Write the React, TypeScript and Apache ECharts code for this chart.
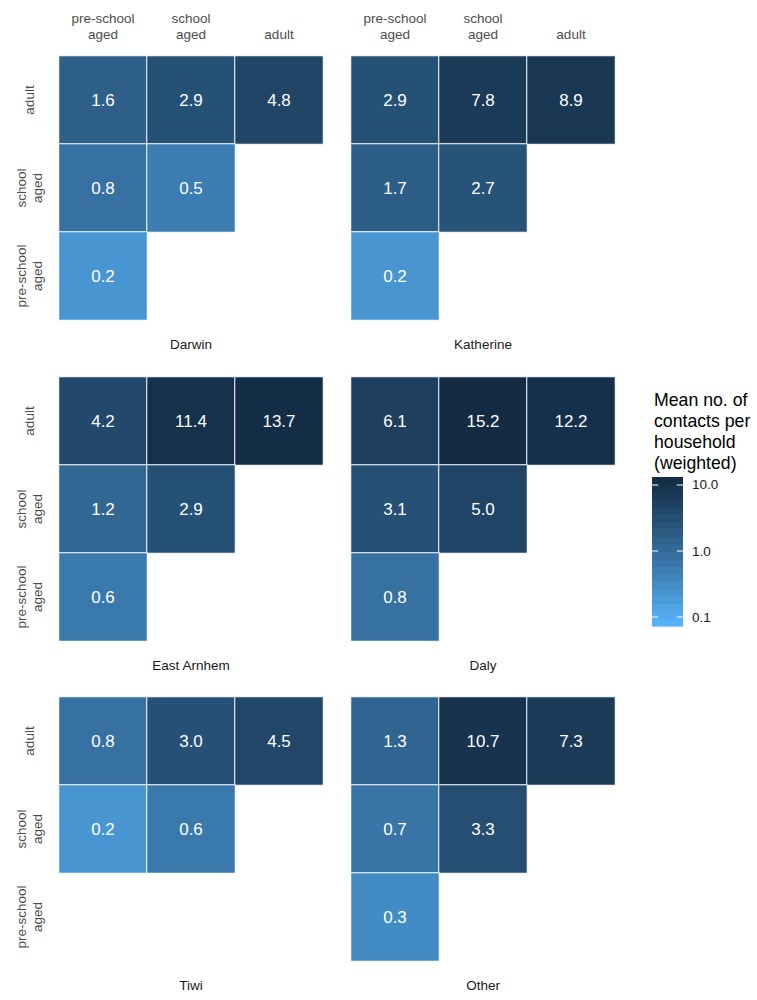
import React, { useEffect, useRef } from "react";
import * as echarts from "echarts";

// Age groups, bottom-to-top on the y axis, left-to-right on the x axis
const ageGroups = ["pre-school\naged", "school\naged", "adult"];
const regions = ["Darwin", "Katherine", "East Arnhem", "Daly", "Tiwi", "Other"];

// Each region: rows listed top-down (adult, school aged, pre-school aged),
// values left-to-right across contact age groups
const darwin = [[1.6, 2.9, 4.8], [0.8, 0.5], [0.2]];
const katherine = [[2.9, 7.8, 8.9], [1.7, 2.7], [0.2]];
const eastArnhem = [[4.2, 11.4, 13.7], [1.2, 2.9], [0.6]];
const daly = [[6.1, 15.2, 12.2], [3.1, 5.0], [0.8]];
const tiwi = [[0.8, 3.0, 4.5], [0.2, 0.6], []];
const other = [[1.3, 10.7, 7.3], [0.7, 3.3], [0.3]];
const regionValues = [darwin, katherine, eastArnhem, daly, tiwi, other];

// Colour scale (log10) and legend breaks
const scaleLogMin = -1.136;
const scaleLogMax = Math.log10(15.2);
const barLogMax = 1.121;
const legendBreaks = [0.1, 1, 10];
const lowColor = "#56B1F7";
const highColor = "#132B43";

// --- Lab interpolation, as in a sequential gradient palette ---
function hexToRgb(h: string) {
  const n = parseInt(h.slice(1), 16);
  return [(n >> 16) & 255, (n >> 8) & 255, n & 255];
}
function toLin(c: number) {
  c /= 255;
  return c <= 0.04045 ? c / 12.92 : Math.pow((c + 0.055) / 1.055, 2.4);
}
function fromLin(c: number) {
  const v = c <= 0.0031308 ? 12.92 * c : 1.055 * Math.pow(c, 1 / 2.4) - 0.055;
  return Math.round(Math.max(0, Math.min(1, v)) * 255);
}
const Xn = 0.95047, Yn = 1.0, Zn = 1.08883;
function fLab(t: number) {
  return t > 0.008856 ? Math.cbrt(t) : 7.787 * t + 16 / 116;
}
function fInv(f: number) {
  const f3 = f * f * f;
  return f3 > 0.008856 ? f3 : (f - 16 / 116) / 7.787;
}
function rgbToLab(rgb: number[]) {
  const [r, g, b] = rgb.map(toLin);
  const X = 0.4124 * r + 0.3576 * g + 0.1805 * b;
  const Y = 0.2126 * r + 0.7152 * g + 0.0722 * b;
  const Z = 0.0193 * r + 0.1192 * g + 0.9505 * b;
  const fx = fLab(X / Xn), fy = fLab(Y / Yn), fz = fLab(Z / Zn);
  return [116 * fy - 16, 500 * (fx - fy), 200 * (fy - fz)];
}
function labToHex(lab: number[]) {
  const fy = (lab[0] + 16) / 116;
  const fx = fy + lab[1] / 500;
  const fz = fy - lab[2] / 200;
  const X = fInv(fx) * Xn, Y = fInv(fy) * Yn, Z = fInv(fz) * Zn;
  const r = 3.2406 * X - 1.5372 * Y - 0.4986 * Z;
  const g = -0.9689 * X + 1.8758 * Y + 0.0415 * Z;
  const b = 0.0557 * X - 0.204 * Y + 1.057 * Z;
  const hex = [r, g, b].map((c) => fromLin(c).toString(16).padStart(2, "0")).join("");
  return "#" + hex;
}
const labLow = rgbToLab(hexToRgb(lowColor));
const labHigh = rgbToLab(hexToRgb(highColor));
function colorAtT(t: number) {
  const tt = Math.max(0, Math.min(1, t));
  return labToHex(labLow.map((v, i) => v + (labHigh[i] - v) * tt));
}
function colorAtLog(lv: number) {
  return colorAtT((lv - scaleLogMin) / (scaleLogMax - scaleLogMin));
}

const FONT = "'Liberation Sans', Arial, Helvetica, sans-serif";

export default function App() {
  const ref = useRef<HTMLDivElement>(null);

  useEffect(() => {
    if (!ref.current) return;
    const chart = echarts.init(ref.current, undefined, { renderer: "svg" });

    const panelW = 264;
    const panelH = 264;
    const colLeft = [59, 351];
    const rowTop = [56, 377, 697];

    const grids: any[] = [];
    const xAxes: any[] = [];
    const yAxes: any[] = [];
    const series: any[] = [];
    const graphics: any[] = [];
    const heatmapIdx: number[] = [];

    regions.forEach((name, i) => {
      const r = Math.floor(i / 2);
      const c = i % 2;
      grids.push({ left: colLeft[c], top: rowTop[r], width: panelW, height: panelH });
      xAxes.push({
        type: "category",
        gridIndex: i,
        data: ageGroups,
        position: "top",
        axisLine: { show: false },
        axisTick: { show: false },
        splitLine: { show: false },
        axisLabel: {
          show: r === 0,
          interval: 0,
          margin: 14,
          fontSize: 13.5,
          lineHeight: 16,
          color: "#4D4D4D",
          fontFamily: FONT,
        },
      });
      yAxes.push({
        type: "category",
        gridIndex: i,
        data: ageGroups,
        axisLine: { show: false },
        axisTick: { show: false },
        splitLine: { show: false },
        axisLabel: {
          show: c === 0,
          interval: 0,
          rotate: 90,
          margin: 30,
          verticalAlign: "middle",
          fontSize: 13.5,
          lineHeight: 16,
          color: "#4D4D4D",
          fontFamily: FONT,
        },
      });

      const cells: number[][] = [];
      regionValues[i].forEach((row, ri) => {
        const yIdx = 2 - ri;
        row.forEach((v, xIdx) => {
          cells.push([xIdx, yIdx, v, Math.log10(v)]);
        });
      });
      heatmapIdx.push(series.length);
      series.push({
        type: "heatmap",
        xAxisIndex: i,
        yAxisIndex: i,
        data: cells,
        itemStyle: { borderColor: "#FFFFFF", borderWidth: 1 },
        label: {
          show: true,
          formatter: (p: any) => p.value[2].toFixed(1),
          color: "#FFFFFF",
          fontSize: 17,
          fontFamily: FONT,
        },
        emphasis: { disabled: true },
      });

      graphics.push({
        type: "text",
        x: colLeft[c] + panelW / 2,
        y: rowTop[r] + panelH + 24,
        style: {
          text: name,
          textAlign: "center",
          textVerticalAlign: "middle",
          fontSize: 13.5,
          fill: "#1A1A1A",
          fontFamily: FONT,
        },
      });
    });

    // Colour bar legend in its own grid, with a log10 value axis
    const barIdx = regions.length;
    grids.push({ left: 652, top: 477, width: 31, height: 149 });
    xAxes.push({ type: "value", gridIndex: barIdx, min: 0, max: 1, show: false });
    yAxes.push({ type: "value", gridIndex: barIdx, min: scaleLogMin, max: barLogMax, show: false });

    const nbin = 20;
    const step = (barLogMax - scaleLogMin) / nbin;
    const bins: number[][] = [];
    for (let k = 0; k < nbin; k++) {
      const lo = scaleLogMin + k * step;
      bins.push([lo, lo + step, scaleLogMin + (k / (nbin - 1)) * (barLogMax - scaleLogMin)]);
    }
    series.push({
      type: "custom",
      xAxisIndex: barIdx,
      yAxisIndex: barIdx,
      data: bins,
      silent: true,
      renderItem: (_p: any, api: any) => {
        const a = api.coord([0, api.value(0)]);
        const b = api.coord([1, api.value(1)]);
        return {
          type: "rect",
          shape: { x: a[0], y: b[1], width: b[0] - a[0], height: a[1] - b[1] + 0.6 },
          style: { fill: colorAtLog(api.value(2)) },
        };
      },
    });
    series.push({
      type: "custom",
      xAxisIndex: barIdx,
      yAxisIndex: barIdx,
      data: legendBreaks.map((v) => [Math.log10(v), v]),
      silent: true,
      z: 5,
      renderItem: (_p: any, api: any) => {
        const lv = api.value(0);
        const v = api.value(1);
        const l = api.coord([0, lv]);
        const rr = api.coord([1, lv]);
        const tl = (rr[0] - l[0]) / 5;
        return {
          type: "group",
          children: [
            { type: "line", shape: { x1: l[0], y1: l[1], x2: l[0] + tl, y2: l[1] }, style: { stroke: "#FFFFFF", lineWidth: 1 } },
            { type: "line", shape: { x1: rr[0] - tl, y1: l[1], x2: rr[0], y2: l[1] }, style: { stroke: "#FFFFFF", lineWidth: 1 } },
            {
              type: "text",
              x: rr[0] + 9,
              y: l[1],
              style: {
                text: v.toFixed(1),
                textAlign: "left",
                textVerticalAlign: "middle",
                fontSize: 13.5,
                fill: "#1A1A1A",
                fontFamily: FONT,
              },
            },
          ],
        };
      },
    });

    graphics.push({
      type: "text",
      x: 654,
      y: 389.5,
      style: {
        text: "Mean no. of\ncontacts per\nhousehold\n(weighted)",
        textAlign: "left",
        textVerticalAlign: "top",
        fontSize: 17.7,
        lineHeight: 21,
        fill: "#000000",
        fontFamily: FONT,
      },
    });

    // Lab-interpolated stops for the hidden continuous visual map
    const stops: string[] = [];
    for (let k = 0; k <= 40; k++) stops.push(colorAtT(k / 40));

    chart.setOption({
      animation: false,
      backgroundColor: "#FFFFFF",
      textStyle: { fontFamily: FONT },
      grid: grids,
      xAxis: xAxes,
      yAxis: yAxes,
      visualMap: {
        type: "continuous",
        show: false,
        dimension: 3,
        min: scaleLogMin,
        max: scaleLogMax,
        seriesIndex: heatmapIdx,
        inRange: { color: stops },
      },
      series,
      graphic: graphics,
    });

    return () => chart.dispose();
  }, []);

  return (
    <div
      ref={ref}
      style={{ position: "absolute", left: 0, top: 0, width: 757, height: 1000 }}
    />
  );
}
